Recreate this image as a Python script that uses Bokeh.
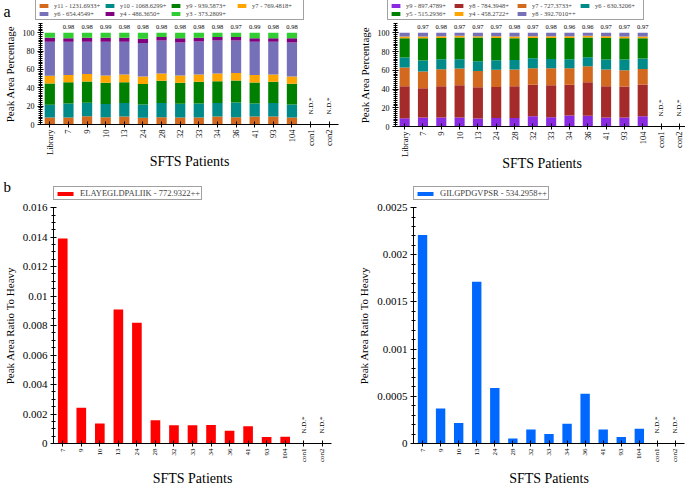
import math
from bokeh.plotting import figure
from bokeh.models import (ColumnDataSource, Legend, LegendItem, Label, SingleIntervalTicker,
                          PrintfTickFormatter, Range1d, FactorRange)
from bokeh.layouts import column, row
from bokeh.embed import file_html
from bokeh.resources import INLINE
from bokeh.core.properties import value

FONT = "Liberation Serif"

# ---------------- data ----------------
samples_a = ["Library", "7", "9", "10", "13", "24", "28", "32", "33", "34", "36", "41", "93", "104", "con1", "con2"]
samples_b = ["7", "9", "10", "13", "24", "28", "32", "33", "34", "36", "41", "93", "104", "con1", "con2"]
nd_samples = ["con1", "con2"]

# panel a (left) - peak area percentage per fragment ion (Library .. 104)
a1_names = ["y11 - 1231.6933+", "y10 - 1068.6299+", "y9 - 939.5873+", "y7 - 769.4818+",
            "y6 - 654.4549+", "y4 - 486.3650+", "y3 - 373.2809+"]
a1_colors = ["#D2691E", "#008B8B", "#008000", "#FFA500", "#7570B8", "#800080", "#32CD32"]
a1_y11 = [7.6, 7.6, 9.0, 8.0, 8.7, 7.3, 8.0, 7.6, 7.6, 8.7, 8.0, 8.7, 8.7, 7.6]
a1_y10 = [13.8, 15.3, 14.6, 14.2, 14.6, 14.5, 15.3, 14.9, 15.3, 14.6, 16.0, 14.2, 14.6, 14.2]
a1_y9 = [23.3, 23.1, 23.3, 23.2, 22.7, 22.2, 24.3, 22.9, 23.6, 23.9, 24.0, 22.9, 23.2, 22.5]
a1_y7 = [8.3, 8.0, 8.0, 8.0, 8.5, 8.3, 8.0, 8.0, 8.0, 8.4, 8.0, 8.0, 8.0, 8.0]
a1_y6 = [37.0, 36.0, 35.1, 36.6, 35.5, 36.4, 36.0, 36.0, 36.0, 36.0, 35.6, 36.2, 35.5, 37.1]
a1_y4 = [4.5, 4.0, 4.5, 4.5, 4.5, 4.7, 3.6, 4.4, 4.0, 3.6, 3.6, 4.0, 4.0, 4.4]
a1_y3 = [5.5, 6.0, 5.5, 5.5, 5.5, 6.6, 4.8, 6.2, 5.5, 4.8, 4.8, 6.0, 6.0, 6.2]
a1_dotp = ["0.98", "0.98", "0.99", "0.98", "0.98", "0.98", "0.98", "0.98", "0.98", "0.97", "0.99", "0.98", "0.98"]

# panel a (right)
a2_names = ["y9 - 897.4789+", "y8 - 784.3948+", "y7 - 727.3733+", "y6 - 630.3206+",
            "y5 - 515.2936+", "y4 - 458.2722+", "y8 - 392.7010++"]
a2_colors = ["#8A2BE2", "#A52A2A", "#D2691E", "#008B8B", "#008000", "#FFA500", "#7570B8"]
a2_y9 = [8.9, 9.6, 9.6, 9.6, 8.5, 9.2, 9.2, 11.0, 10.0, 11.7, 11.4, 9.6, 9.6, 11.0]
a2_y8 = [34.1, 31.3, 33.4, 34.5, 33.5, 33.1, 33.8, 33.5, 34.1, 32.8, 35.9, 33.4, 33.1, 33.8]
a2_y7 = [20.0, 17.8, 18.2, 17.8, 17.4, 18.2, 17.8, 17.8, 18.2, 17.8, 17.1, 17.8, 17.4, 16.7]
a2_y6 = [10.6, 11.7, 10.7, 10.0, 10.3, 10.3, 10.3, 10.6, 9.9, 9.6, 9.6, 10.7, 11.4, 11.1]
a2_y5 = [20.7, 23.9, 22.7, 23.1, 25.3, 23.8, 23.2, 21.7, 22.4, 22.7, 21.0, 23.1, 22.8, 21.7]
a2_y4 = [1.7, 1.7, 1.8, 1.8, 1.4, 1.8, 1.7, 1.8, 1.8, 1.8, 1.8, 1.8, 1.7, 1.7]
a2_y8pp = [4.0, 4.0, 3.6, 3.2, 3.6, 3.6, 4.0, 3.6, 3.6, 3.6, 3.2, 3.6, 4.0, 4.0]
a2_dotp = ["0.97", "0.98", "0.97", "0.97", "0.97", "0.98", "0.97", "0.98", "0.96", "0.96", "0.97", "0.97", "0.97"]

# panel b - peak area ratio to heavy
b1_name = "ELAYEGLDPALIIK - 772.9322++"
b1_color = "#FF0000"
b1_ratio = [0.0139, 0.00242, 0.00135, 0.00909, 0.0082, 0.00158, 0.00124, 0.00124, 0.00126,
            0.00087, 0.00117, 0.00044, 0.00046, 0.0, 0.0]
b2_name = "GILGPDGVPSR - 534.2958++"
b2_color = "#0068FF"
b2_ratio = [0.00221, 0.00037, 0.000218, 0.001715, 0.000588, 0.000053, 0.000148, 0.0001,
            0.000208, 0.000528, 0.000148, 0.00007, 0.000155, 0.0, 0.0]

TOTAL_W = 685


def style(p, ylabel, xlabel="SFTS Patients"):
    p.outline_line_color = None
    p.xgrid.visible = False
    p.ygrid.visible = False
    p.background_fill_color = "white"
    p.border_fill_color = "white"
    for ax in (p.xaxis, p.yaxis):
        ax.axis_line_color = "black"
        ax.major_tick_line_color = "black"
        ax.minor_tick_line_color = "black"
        ax.major_label_text_font = FONT
        ax.axis_label_text_font = FONT
        ax.axis_label_text_font_style = "normal"
        ax.major_label_text_color = "black"
        ax.axis_label_text_color = "black"
    p.yaxis.axis_label = ylabel
    p.xaxis.axis_label = xlabel
    p.xaxis.axis_label_text_font_size = "14px"
    p.yaxis.axis_label_text_font_size = "11px"
    p.xaxis.major_label_orientation = math.pi / 2
    p.xaxis.major_tick_in = 3
    p.xaxis.major_tick_out = 3
    p.yaxis.major_tick_in = 3
    p.yaxis.major_tick_out = 3
    p.yaxis.minor_tick_in = 2
    p.yaxis.minor_tick_out = 2
    p.xaxis.major_label_standoff = 2
    p.yaxis.major_label_standoff = 3
    p.yaxis.axis_label_standoff = 4


def legend_strip(height, specs, tag, tag_y, tag_size):
    """A strip holding the legends (outside the plot frames) and the panel letter."""
    p = figure(width=TOTAL_W, height=height, x_range=Range1d(0, TOTAL_W), y_range=Range1d(0, height),
               x_axis_location=None, y_axis_location=None, output_backend="svg",
               toolbar_location=None, min_border=0)
    p.outline_line_color = None
    p.xgrid.visible = False
    p.ygrid.visible = False
    p.border_fill_color = "white"
    for names, colors, x0, y0, opts in specs:
        items = []
        for n, c in zip(names, colors):
            # zero-height proxy bar: only provides the legend swatch
            r = p.vbar(x=[0], top=[0], bottom=[0], width=0, fill_color=c, line_color=None)
            items.append(LegendItem(label=n, renderers=[r]))
        leg = Legend(items=items, location=(x0, y0), orientation="horizontal", margin=0,
                     label_text_font=FONT, border_line_color="#444444", border_line_width=1,
                     background_fill_color="white", **opts)
        p.add_layout(leg)
    p.add_layout(Label(x=3, y=tag_y, x_units="screen", y_units="screen", text=tag,
                       text_font=FONT, text_font_size=tag_size, text_baseline="top",
                       text_color="black"))
    return p


def stacked_panel(left, fw, fh, right, bottom, series, colors, dotp):
    p = figure(frame_width=fw, frame_height=fh, x_range=FactorRange(factors=samples_a),
               y_range=Range1d(0, 110), output_backend="svg", toolbar_location=None,
               min_border_left=left, min_border_right=right, min_border_top=2,
               min_border_bottom=bottom)
    data = {"x": samples_a}
    keys = []
    for i, s in enumerate(series):
        k = "s%d" % i
        data[k] = list(s) + [0.0, 0.0]
        keys.append(k)
    src = ColumnDataSource(data)
    p.vbar_stack(keys, x="x", width=0.55, color=colors, line_color=None, source=src)
    p.text(x=samples_a[1:14], y=[106] * len(dotp), text=dotp, text_font=value(FONT),
           text_font_size="6.5px", text_align="center", text_baseline="middle", color="black")
    p.text(x=nd_samples, y=[0, 0], text=["N.D.*"] * 2, angle=math.pi / 2, y_offset=-10,
           text_font=value(FONT), text_font_size="7px", text_align="left",
           text_baseline="middle", color="black")
    style(p, "Peak Area Percentage")
    p.yaxis.ticker = SingleIntervalTicker(interval=20, num_minor_ticks=10)
    p.yaxis.major_label_text_font_size = "8px"
    p.xaxis.major_label_text_font_size = "8.5px"
    p.xaxis.axis_label_standoff = -4
    return p


def ratio_panel(left, fw, fh, right, color, vals, top, interval, nminor):
    p = figure(frame_width=fw, frame_height=fh, x_range=FactorRange(factors=samples_b),
               y_range=Range1d(0, top), output_backend="svg", toolbar_location=None,
               min_border_left=left, min_border_right=right, min_border_top=7,
               min_border_bottom=42)
    src = ColumnDataSource({"x": samples_b, "v": vals})
    p.vbar(x="x", top="v", width=0.52, color=color, line_color=None, source=src)
    p.text(x=nd_samples, y=[0, 0], text=["N.D.*"] * 2, angle=math.pi / 2, y_offset=-10,
           text_font=value(FONT), text_font_size="7px", text_align="left",
           text_baseline="middle", color="black")
    style(p, "Peak Area Ratio To Heavy")
    p.yaxis.ticker = SingleIntervalTicker(interval=interval, num_minor_ticks=nminor)
    p.yaxis.formatter = PrintfTickFormatter(format="%g")
    p.yaxis.major_label_text_font_size = "11px"
    p.xaxis.major_label_text_font_size = "7px"
    p.xaxis.axis_label_standoff = 6
    return p


leg_a1_opts = dict(ncols=4, label_text_font_size="6.5px", glyph_width=11, glyph_height=5,
                   label_height=6, label_width=49, label_standoff=5, spacing=1, padding=2)
leg_a2_opts = dict(ncols=4, label_text_font_size="6.5px", glyph_width=11, glyph_height=5,
                   label_height=6, label_width=46, label_standoff=5, spacing=1, padding=2)
leg_b_opts = dict(label_text_font_size="8.5px", glyph_width=20, glyph_height=5,
                  label_height=9, label_standoff=5, padding=1)

strip_a = legend_strip(21, [(a1_names, a1_colors, 35, 1, leg_a1_opts),
                            (a2_names, a2_colors, 387, 1, leg_a2_opts)], "a", 19, "16px")
pa1 = stacked_panel(35, 298, 101, 7, 48,
                    [a1_y11, a1_y10, a1_y9, a1_y7, a1_y6, a1_y4, a1_y3], a1_colors, a1_dotp)
pa2 = stacked_panel(50, 293, 103, 2, 46,
                    [a2_y9, a2_y8, a2_y7, a2_y6, a2_y5, a2_y4, a2_y8pp], a2_colors, a2_dotp)
strip_b = legend_strip(27, [([b1_name], [b1_color], 53, 0, leg_b_opts),
                            ([b2_name], [b2_color], 413, 0, leg_b_opts)], "b", 22, "15px")
pb1 = ratio_panel(52, 278, 236, 10, b1_color, b1_ratio, 0.01601, 0.002, 4)
pb2 = ratio_panel(72, 271, 236, 2, b2_color, b2_ratio, 0.002501, 0.0005, 5)

layout = column(strip_a, row(pa1, pa2), strip_b, row(pb1, pb2))
open("out.html", "w").write(file_html(layout, INLINE))
